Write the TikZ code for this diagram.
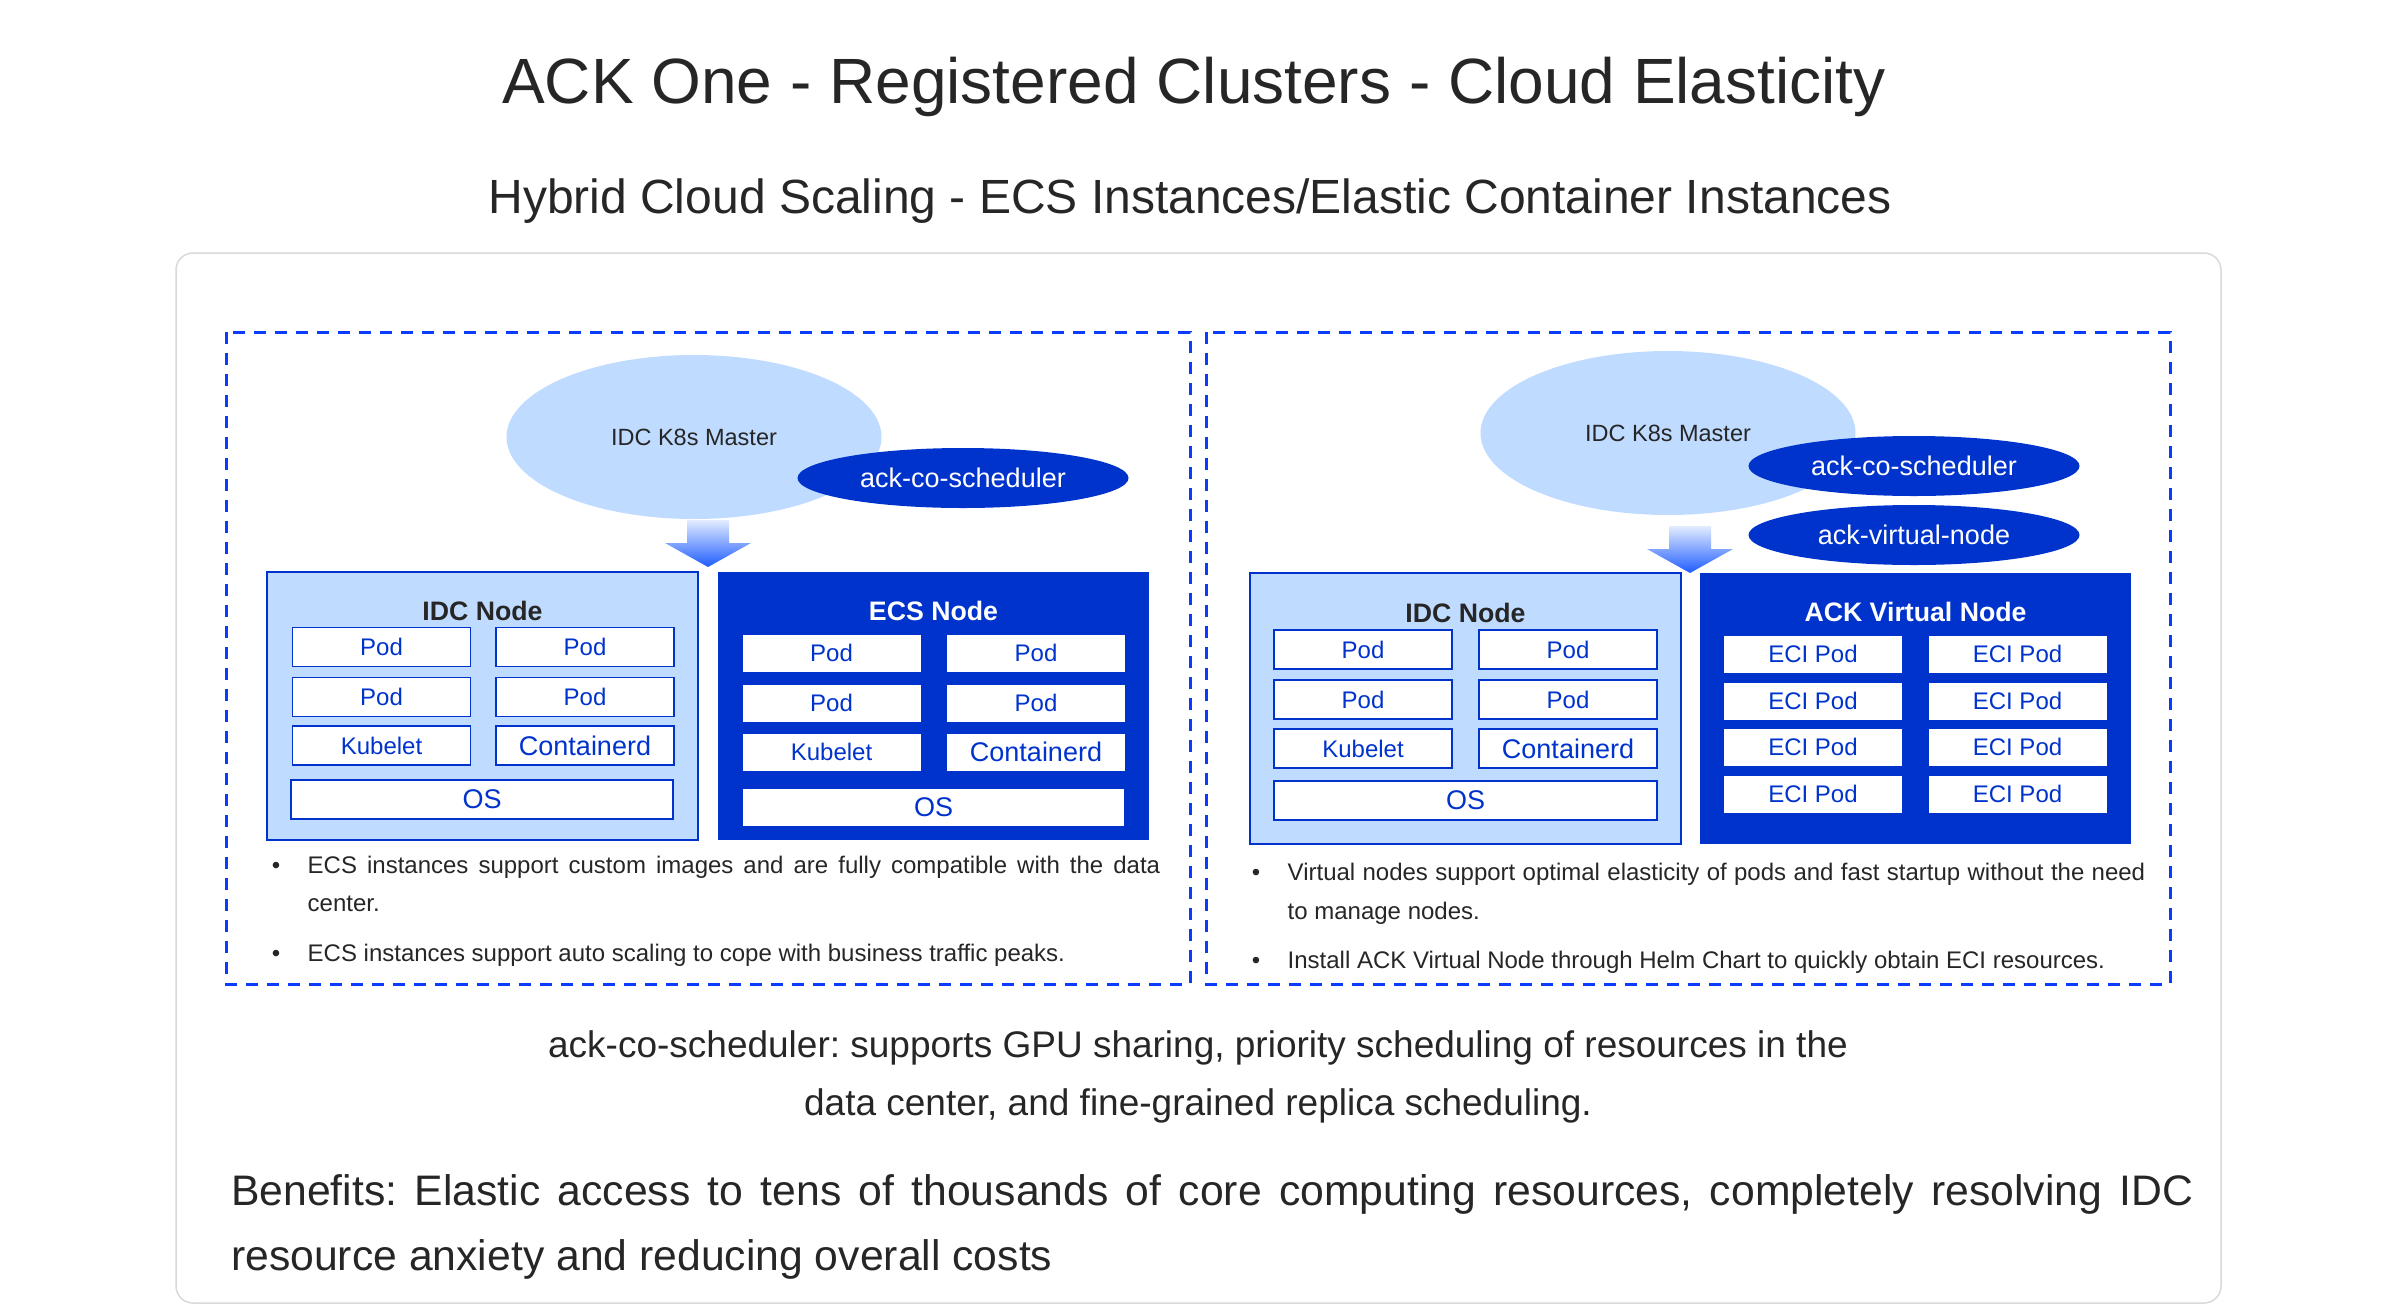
\documentclass[tikz,border=0pt]{standalone}
\usepackage{fontspec}
\setmainfont{Liberation Sans}
\usepackage{xcolor}
\usepackage{tikz}
\usetikzlibrary{shapes,arrows,positioning,calc,fit,backgrounds,arrows.meta,shapes.geometric}
\definecolor{ackdark}{HTML}{0033CC}
\definecolor{acklight}{HTML}{BFDBFF}
\definecolor{ackdash}{HTML}{0A3CFF}
\definecolor{ackgray}{HTML}{D9D9D9}
\definecolor{acktext}{HTML}{262626}
\definecolor{ackfltop}{HTML}{E2ECFF}
\definecolor{ackflbot}{HTML}{1F5CFF}
\setlength{\parindent}{0pt}
\frenchspacing
\hyphenpenalty=10000
\exhyphenpenalty=10000

\begin{document}
\begin{tikzpicture}[
    x=1pt, y=-1pt,
    % Estilos
    box/.style={inner sep=0pt, text=ackdark, font=\fontsize{24}{29}\selectfont},
    pod/.style={box, draw=ackdark, line width=1.5pt, fill=white, minimum width=178pt, minimum height=39pt},
    podw/.style={box, fill=white, minimum width=178pt, minimum height=37pt},
    big_txt/.style={font=\fontsize{27}{32}\selectfont},
    idcbox/.style={draw=ackdark, line width=1.5pt, fill=acklight, minimum width=431pt, minimum height=268pt, inner sep=0pt},
    ecsbox/.style={fill=ackdark, minimum width=431pt, minimum height=268pt, inner sep=0pt},
    master/.style={ellipse, fill=acklight, inner sep=0pt, minimum width=375pt, minimum height=164pt, text=acktext, font=\fontsize{23.5}{28}\selectfont},
    sched/.style={ellipse, fill=ackdark, inner sep=0pt, minimum width=331pt, minimum height=60pt, text=white, font=\fontsize{27}{32}\selectfont},
    group_label/.style={anchor=base, inner sep=0pt, text=acktext, font=\fontsize{26.7}{32}\selectfont\bfseries},
    dashbox/.style={draw=ackdash, line width=3pt, dash pattern=on 12pt off 9pt},
    outer_frame/.style={draw=ackgray, line width=1.5pt, rounded corners=17pt},
    flecha/.style={top color=ackfltop, bottom color=ackflbot, draw=none},
    main_title/.style={anchor=base, inner sep=0pt, text=acktext, font=\fontsize{64}{77}\selectfont},
    sub_title/.style={anchor=base, inner sep=0pt, text=acktext, font=\fontsize{48}{58}\selectfont},
    bullet_dot/.style={anchor=base, inner sep=0pt, text=acktext, font=\fontsize{24}{29}\selectfont},
    btxt/.style={anchor=north west, inner sep=0pt, text=acktext, align=justify, font=\fontsize{24}{38.5}\selectfont},
    nota_txt/.style={anchor=north, inner sep=0pt, text=acktext, align=center, font=\fontsize{37}{58}\selectfont},
    benefit/.style={anchor=north west, inner sep=0pt, text=acktext, align=justify, text width=1962pt, font=\fontsize{42.7}{65}\selectfont}
]

% --- MARCO GENERAL ---
\useasboundingbox (0,0) rectangle (2398,1312);
\draw[outer_frame] (176,253) rectangle (2221,1303);
\draw[dashbox] (226,332) rectangle (1190,984);
\draw[dashbox] (1206,332) rectangle (2170,984);

% --- TITULOS ---
\node[main_title] (tit) at (1194,103) {ACK One - Registered Clusters - Cloud Elasticity};
\node[sub_title] (subtit) at (1190,213) {Hybrid Cloud Scaling - ECS Instances/Elastic Container Instances};

% --- PANEL IZQUIERDO (ECS) ---
\node[master] (m1) at (694,437) {IDC K8s Master};
\node[sched] (cs1) at (963,478) {ack-co-scheduler};
\coordinate (f1) at (708,520);
\path[flecha] (f1) ++(-21,0) -- ++(42,0) -- ++(0,23) -- ++(22,0) -- ++(-43,24) -- ++(-43,-24) -- ++(22,0) -- cycle;

\node[idcbox] (idc1) at (482.5,706) {};
\node[group_label] (lidc1) at (482.5,620) {IDC Node};
\node[pod] (p11) at (381.5,647) {Pod};
\node[pod] (p12) at (585,647) {Pod};
\node[pod] (p13) at (381.5,697) {Pod};
\node[pod] (p14) at (585,697) {Pod};
\node[pod] (kub1) at (381.5,745.5) {Kubelet};
\node[pod, big_txt] (ctd1) at (585,745.5) {Containerd};
\node[pod, big_txt, minimum width=382pt] (os1) at (482,799.5) {OS};

\node[ecsbox] (ecs1) at (933.5,706.25) {};
\node[group_label, text=white] (lecs1) at (933.5,620) {ECS Node};
\node[podw] (q11) at (831.5,653) {Pod};
\node[podw] (q12) at (1036,653) {Pod};
\node[podw] (q13) at (831.5,703) {Pod};
\node[podw] (q14) at (1036,703) {Pod};
\node[podw] (kub2) at (831.5,752) {Kubelet};
\node[podw, big_txt] (ctd2) at (1036,752) {Containerd};
\node[podw, big_txt, minimum width=381pt] (os2) at (933.5,807.5) {OS};

\node[bullet_dot] (d11) at (276,873) {•};
\node[btxt, text width=852.5pt] (t11) at (307.5,855.7) {ECS instances support custom images and are fully compatible with the data center.};
\node[bullet_dot] (d12) at (276,961) {•};
\node[btxt, text width=852.5pt] (t12) at (307.5,943.7) {ECS instances support auto scaling to cope with business traffic peaks.};

% --- PANEL DERECHO (ECI) ---
\node[master] (m2) at (1668,433) {IDC K8s Master};
\node[sched] (cs2) at (1914,466) {ack-co-scheduler};
\node[sched] (vn2) at (1914,535) {ack-virtual-node};
\coordinate (f2) at (1690,526);
\path[flecha] (f2) ++(-21,0) -- ++(42,0) -- ++(0,23) -- ++(22,0) -- ++(-43,24) -- ++(-43,-24) -- ++(22,0) -- cycle;

\node[idcbox, minimum height=271pt] (idc2) at (1465.5,708.5) {};
\node[group_label] (lidc2) at (1465.5,622) {IDC Node};
\node[pod] (p21) at (1363,649.5) {Pod};
\node[pod] (p22) at (1568,649.5) {Pod};
\node[pod] (p23) at (1363,699.5) {Pod};
\node[pod] (p24) at (1568,699.5) {Pod};
\node[pod] (kub3) at (1363,748.5) {Kubelet};
\node[pod, big_txt] (ctd3) at (1568,748.5) {Containerd};
\node[pod, big_txt, minimum width=383pt] (os3) at (1465.5,800.5) {OS};

\node[ecsbox, minimum height=271pt] (vk2) at (1915.5,708.5) {};
\node[group_label, text=white] (lvk2) at (1915.5,621) {ACK Virtual Node};
\node[podw] (e1) at (1813,654) {ECI Pod};
\node[podw] (e2) at (2017.5,654) {ECI Pod};
\node[podw] (e3) at (1813,701) {ECI Pod};
\node[podw] (e4) at (2017.5,701) {ECI Pod};
\node[podw] (e5) at (1813,747) {ECI Pod};
\node[podw] (e6) at (2017.5,747) {ECI Pod};
\node[podw] (e7) at (1813,794) {ECI Pod};
\node[podw] (e8) at (2017.5,794) {ECI Pod};

\node[bullet_dot] (d21) at (1256,880.5) {•};
\node[btxt, text width=857.5pt] (t21) at (1287.5,863) {Virtual nodes support optimal elasticity of pods and fast startup without the need to manage nodes.};
\node[bullet_dot] (d22) at (1256,968.5) {•};
\node[btxt, text width=857.5pt] (t22) at (1287.5,951) {Install ACK Virtual Node through Helm Chart to quickly obtain ECI resources.};

% --- NOTAS INFERIORES ---
\node[nota_txt] (nota) at (1198,1030) {ack-co-scheduler: supports GPU sharing, priority scheduling of resources in the\\data center, and fine-grained replica scheduling.};
\node[benefit] (benef) at (231,1174) {Benefits: Elastic access to tens of thousands of core computing resources, completely resolving IDC resource anxiety and reducing overall costs};

\end{tikzpicture}
\end{document}
